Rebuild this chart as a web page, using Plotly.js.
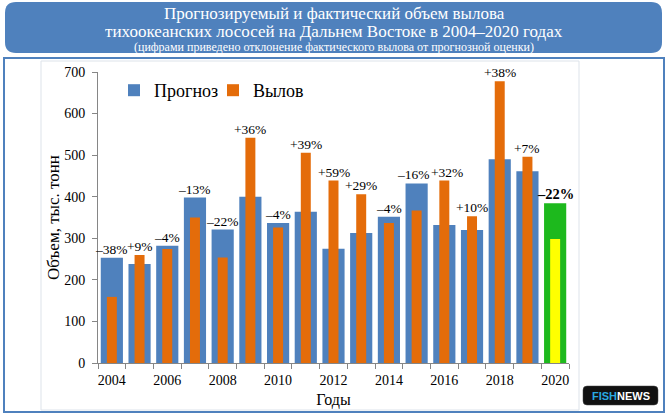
<!DOCTYPE html>
<html>
<head>
<meta charset="utf-8">
<script src="https://cdn.plot.ly/plotly-3.0.1.min.js"></script>
<style>
  html, body { margin: 0; padding: 0; background: #fff; }
  #chart { width: 668px; height: 415px; }
</style>
</head>
<body>
<div id="chart"></div>
<script>
// Daten
const years = ['2004','2005','2006','2007','2008','2009','2010','2011','2012',
               '2013','2014','2015','2016','2017','2018','2019','2020'];
const prognoz = [253, 238, 282, 398, 321, 400, 337, 364, 275, 313, 352, 432, 332, 320, 490, 461, 384];
const vylov   = [159, 260, 274, 350, 254, 542, 326, 506, 439, 406, 337, 367, 439, 353, 678, 496, 298];
const deviation = ['–38%','+9%','–4%','–13%','–22%','+36%','–4%','+39%','+59%',
                   '+29%','–4%','–16%','+32%','+10%','+38%','+7%','–22%'];
const yearLabels = years.map((y, i) => i % 2 === 0 ? y : '');

const W = 668, H = 415;
const m = { l: 98, r: 99, t: 72, b: 52 };
const pw = W - m.l - m.r, ph = H - m.t - m.b;
// Pixel -> paper
const px = x => (x - m.l) / pw;
const py = y => (H - m.b - y) / ph;

const serif = '"Liberation Serif", "Times New Roman", serif';
const blue = '#4f81bd', orange = '#e46c0a';
const last = years.length - 1;

const blueColors = years.map((y, i) => i === last ? '#1db91d' : blue);
const orangeColors = years.map((y, i) => i === last ? '#ffff00' : orange);

const traceP = {
  type: 'bar', name: 'Прогноз', x: years, y: prognoz, width: 0.8,
  marker: { color: blueColors }, hoverinfo: 'none', legend: 'legend'
};
const traceV = {
  type: 'bar', name: 'Вылов', x: years, y: vylov, width: 0.36,
  marker: { color: orangeColors }, hoverinfo: 'none', legend: 'legend2'
};

// Abweichungen über dem höheren Balken (x als Kategorie-Index)
const devLabels = years.map((y, i) => ({
  x: i, y: Math.max(prognoz[i], vylov[i]),
  xref: 'x', yref: 'y', yanchor: 'bottom', yshift: -1,
  xshift: i === 11 ? -3 : (i === 12 ? 3 : 0),
  text: i === last ? '<b>' + deviation[i] + '</b>' : deviation[i],
  showarrow: false,
  font: { family: serif, size: i === last ? 14.5 : 13.5, color: '#000' }
}));

// Kopfzeile
const titleLines = [
  { text: 'Прогнозируемый и фактический объем вылова', y: 13, size: 17 },
  { text: 'тихоокеанских лососей на Дальнем Востоке в 2004–2020 годах', y: 31, size: 17 },
  { text: '(цифрами приведено отклонение фактического вылова от прогнозной оценки)', y: 47, size: 12 }
].map(l => ({
  x: px(334), y: py(l.y), xref: 'paper', yref: 'paper',
  xanchor: 'center', yanchor: 'middle', showarrow: false,
  text: l.text, font: { family: serif, size: l.size, color: '#fff' }
}));

const logo = {
  x: px(620.5), y: py(395.5), xref: 'paper', yref: 'paper',
  xanchor: 'center', yanchor: 'middle', showarrow: false,
  text: '<b><span style="color:#2aa9e1">FISH</span>NEWS</b>',
  font: { family: 'Arial, "Liberation Sans", sans-serif', size: 11, color: '#fff' }
};

function roundRect(x0, y0, x1, y1, r) {
  const X0 = px(x0), X1 = px(x1), Y0 = py(y0), Y1 = py(y1);
  const rx = r / pw, ry = r / ph;
  return `M${X0 + rx},${Y0} L${X1 - rx},${Y0} Q${X1},${Y0} ${X1},${Y0 - ry} ` +
         `L${X1},${Y1 + ry} Q${X1},${Y1} ${X1 - rx},${Y1} L${X0 + rx},${Y1} ` +
         `Q${X0},${Y1} ${X0},${Y1 + ry} L${X0},${Y0 - ry} Q${X0},${Y0} ${X0 + rx},${Y0} Z`;
}

const shapes = [
  { type: 'path', xref: 'paper', yref: 'paper', path: roundRect(5, 2, 662, 53, 11),
    fillcolor: '#4f81bd', line: { width: 0 }, layer: 'below' },
  { type: 'rect', xref: 'paper', yref: 'paper', x0: px(4), x1: px(664), y0: py(58), y1: py(412),
    line: { color: '#4f81bd', width: 2 }, layer: 'below' },
  { type: 'rect', xref: 'paper', yref: 'paper', x0: px(41), x1: px(579), y0: py(61), y1: py(410),
    line: { color: '#dde3ea', width: 1 }, layer: 'below' },
  { type: 'path', xref: 'paper', yref: 'paper', path: roundRect(583, 386, 658, 405, 4),
    fillcolor: '#111', line: { color: '#444', width: 0.5 } }
];

const legendStyle = {
  orientation: 'h', xanchor: 'left', yanchor: 'top',
  font: { family: serif, size: 18 }, bgcolor: 'rgba(0,0,0,0)', itemwidth: 30
};

const layout = {
  width: W, height: H,
  margin: m,
  paper_bgcolor: '#fff', plot_bgcolor: 'rgba(0,0,0,0)',
  barmode: 'overlay',
  font: { family: serif, color: '#000' },
  showlegend: true,
  legend: { ...legendStyle, x: px(114), y: py(72) },
  legend2: { ...legendStyle, x: px(213), y: py(72) },
  xaxis: {
    type: 'category', range: [-0.5, years.length - 0.5],
    tickvals: years, ticktext: yearLabels, tickson: 'boundaries', tickangle: 0,
    ticks: 'outside', ticklen: 5, tickcolor: '#868686', ticklabelstandoff: 4,
    showline: true, linecolor: '#868686', linewidth: 1, showgrid: false,
    tickfont: { family: serif, size: 14 },
    title: { text: 'Годы', font: { family: serif, size: 16 }, standoff: 7 },
    fixedrange: true
  },
  yaxis: {
    range: [0, 700], dtick: 100, ticks: 'outside', ticklen: 5, tickcolor: '#868686',
    showline: true, linecolor: '#868686', linewidth: 1, showgrid: false, zeroline: false,
    tickfont: { family: serif, size: 14 }, ticklabelstandoff: 4,
    title: { text: 'Объем, тыс. тонн', font: { family: serif, size: 17 }, standoff: 0 },
    fixedrange: true
  },
  shapes: shapes,
  annotations: [...devLabels, ...titleLines, logo]
};

Plotly.newPlot('chart', [traceP, traceV], layout, { displayModeBar: false, staticPlot: true });
</script>
</body>
</html>
